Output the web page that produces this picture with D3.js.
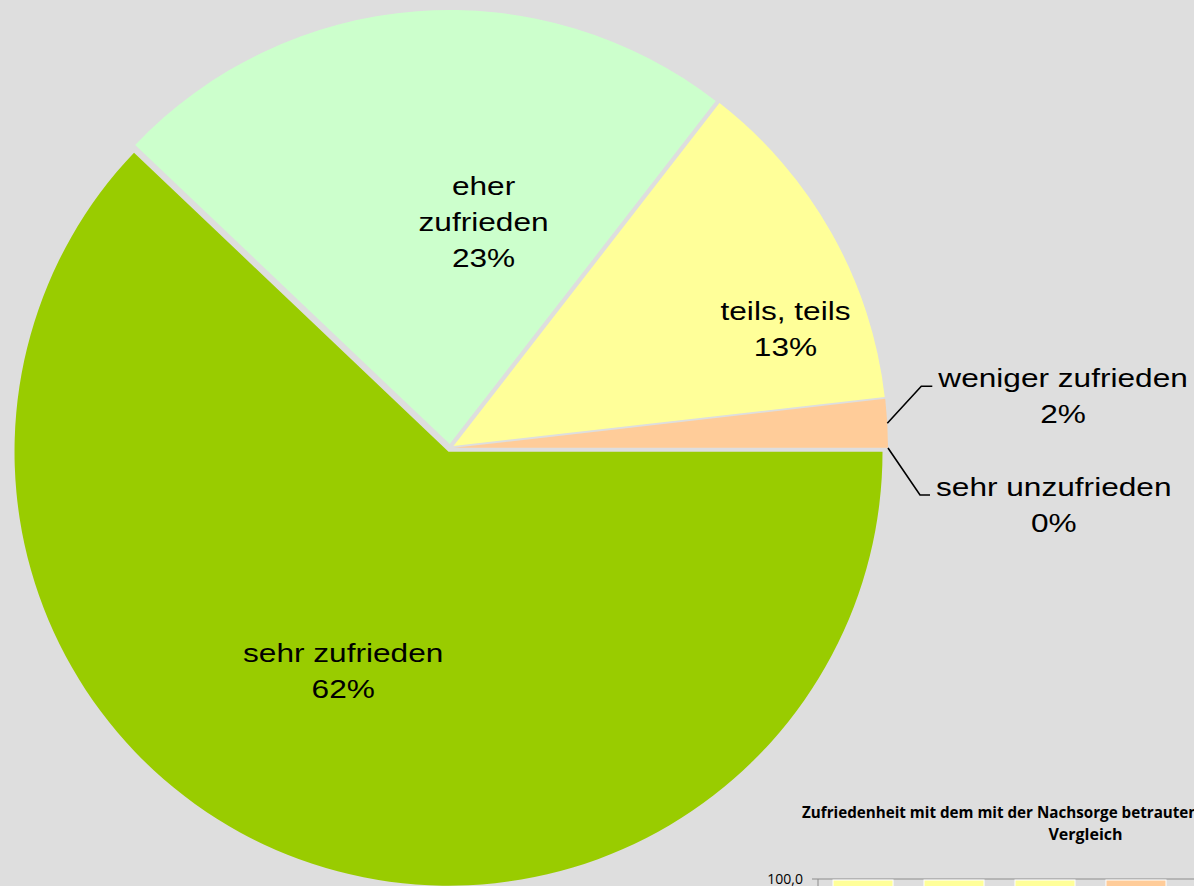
<!DOCTYPE html>
<html>
<head>
<meta charset="utf-8">
<script src="https://cdn.jsdelivr.net/npm/d3@7"></script>
<style>
  html, body { margin: 0; padding: 0; background: #dedede; }
  svg { display: block; }
</style>
</head>
<body>
<svg id="chart" width="1194" height="886"></svg>
<script>
// ---------- DATA ----------
const categories = ["sehr zufrieden", "eher zufrieden", "teils, teils", "weniger zufrieden", "sehr unzufrieden"];
const shares = [62.1, 23.4, 12.7, 1.8, 0];
const sliceColors = ["#99cc00", "#ccffcc", "#ffff99", "#ffcc99", "#ff9966"];

// second (partly visible) comparison chart
const compareTitle = ["Zufriedenheit mit dem mit der Nachsorge betrauten Arzt im", "Vergleich"];
const compareGroups = ["G1", "G2", "G3", "G4", "G5"];
const compareSehr = [55, 58, 60, 50, 57];
const compareEher = [30, 28, 27, 32, 29];
const compareTeils = [15, 14, 13, 14, 12];
const compareWeniger = [0, 0, 0, 4, 2];
const compareUnzufrieden = [0, 0, 0, 0, 0];
const compareTicks = [100];

// ---------- LAYOUT ----------
const W = 1194, H = 886;
const cx = 450, cy = 448, R = 434, explode = 4;
const fontSize = 25.5, stretch = 1.24, lineH = 36;
// inside label placement: angle shift (deg) and radius fraction
const insideLabel = {
  0: { dA: 3.9, rf: 0.56 },
  1: { dA: 13, rf: 0.517 },
  2: { dA: 9.95, rf: 0.811 }
};
// outside label leader elbows (relative to slice edge point)
const outsideLabel = {
  3: { ex: 34, ey: -37, tail: 11 },
  4: { ex: 32, ey: 47, tail: 10 }
};

const svg = d3.select("#chart");
svg.append("rect").attr("width", W).attr("height", H).attr("fill", "#dedede");

const total = d3.sum(shares);
const pie = d3.pie().sort(null).value(d => d)
  .startAngle(Math.PI / 2).endAngle(Math.PI / 2 + 2 * Math.PI);
const arcs = pie(shares);
const arc = d3.arc().innerRadius(0).outerRadius(R);

function polar(a, r) { return [Math.sin(a) * r, -Math.cos(a) * r]; }

const g = svg.append("g");
arcs.forEach((d, i) => {
  const mid = (d.startAngle + d.endAngle) / 2;
  const [ox, oy] = polar(mid, explode);
  d.cx = cx + ox; d.cy = cy + oy; d.mid = mid;
  if (d.endAngle > d.startAngle) {
    g.append("path")
      .attr("d", arc(d))
      .attr("transform", `translate(${d.cx},${d.cy})`)
      .attr("fill", sliceColors[i]);
  }
});

function addLabel(x, y, lines) {
  const t = svg.append("text")
    .attr("font-family", "'Liberation Sans', Arial, sans-serif")
    .attr("font-size", fontSize)
    .attr("fill", "#000")
    .attr("text-anchor", "middle");
  lines.forEach((ln, k) => {
    t.append("tspan").attr("x", 0).attr("y", k * lineH).text(ln);
  });
  t.attr("transform", `translate(${x},${y}) scale(${stretch},1)`);
  return t;
}

arcs.forEach((d, i) => {
  const pct = Math.round(d.data / total * 100) + "%";
  if (insideLabel[i]) {
    const L = insideLabel[i];
    const a = d.mid + L.dA * Math.PI / 180;
    const [px, py] = polar(a, R * L.rf);
    const words = categories[i] === "eher zufrieden" ? ["eher", "zufrieden"] : [categories[i]];
    const lines = words.concat([pct]);
    const n = lines.length;
    const firstBase = d.cy + py - (n - 1) * lineH / 2 + 0.716 * fontSize / 2;
    addLabel(d.cx + px, firstBase, lines);
  } else if (outsideLabel[i]) {
    const L = outsideLabel[i];
    const [sx, sy] = polar(d.mid, R);
    const x0 = d.cx + sx, y0 = d.cy + sy;
    const x1 = x0 + L.ex, y1 = y0 + L.ey;
    const x2 = x1 + L.tail;
    svg.append("path")
      .attr("d", d3.line()([[x0, y0], [x1, y1], [x2, y1]]))
      .attr("fill", "none").attr("stroke", "#000").attr("stroke-width", 1.6);
    const t = addLabel(0, 0, [categories[i], pct]);
    const w = t.select("tspan").node().getComputedTextLength() * stretch;
    t.attr("transform", `translate(${x2 + 6 + w / 2},${y1 + 1}) scale(${stretch},1)`);
  }
});

// ---------- comparison chart (partially visible) ----------
const c = svg.append("g");
const plotTop = 880, plotH = 300;
const y = d3.scaleLinear().domain([0, 100]).range([plotTop + plotH, plotTop]);
const x = d3.scaleBand().domain(compareGroups).range([818, 1272]).paddingInner(0.34).paddingOuter(0.165);

c.append("text")
  .attr("x", 802).attr("y", 818)
  .attr("font-family", "'Open Sans', sans-serif").attr("font-weight", 700).attr("font-size", 15.2)
  .attr("fill", "#000").text(compareTitle[0]);
c.append("text")
  .attr("x", 1085.5).attr("y", 840).attr("text-anchor", "middle")
  .attr("font-family", "'Open Sans', sans-serif").attr("font-weight", 700).attr("font-size", 16)
  .attr("fill", "#000").text(compareTitle[1]);

// gridlines
compareTicks.forEach(t => {
  c.append("line").attr("x1", 812).attr("x2", W).attr("y1", y(t) - 1).attr("y2", y(t) - 1)
    .attr("stroke", "#8c8c8c").attr("stroke-width", 1);
  c.append("text").attr("x", 803).attr("y", y(t) + 4).attr("text-anchor", "end")
    .attr("font-family", "'Open Sans', sans-serif").attr("font-size", 14).attr("fill", "#000")
    .text(d3.format(".1f")(t).replace(".", ","));
});
c.append("line").attr("x1", 818).attr("x2", 818).attr("y1", y(100) - 1).attr("y2", H)
  .attr("stroke", "#8c8c8c").attr("stroke-width", 1);

const seriesList = [compareSehr, compareEher, compareTeils, compareWeniger, compareUnzufrieden];
const stackRows = compareGroups.map((grp, j) => {
  const o = { grp };
  seriesList.forEach((s, k) => o["s" + k] = s[j]);
  return o;
});
const stack = d3.stack().keys(seriesList.map((s, k) => "s" + k))(stackRows);
stack.forEach((layer, k) => {
  layer.forEach(seg => {
    if (seg[1] - seg[0] <= 0) return;
    c.append("rect")
      .attr("x", x(seg.data.grp)).attr("width", x.bandwidth())
      .attr("y", y(seg[1])).attr("height", y(seg[0]) - y(seg[1]))
      .attr("fill", sliceColors[k]).attr("stroke", "#ffffff").attr("stroke-width", 1);
  });
});
</script>
</body>
</html>
